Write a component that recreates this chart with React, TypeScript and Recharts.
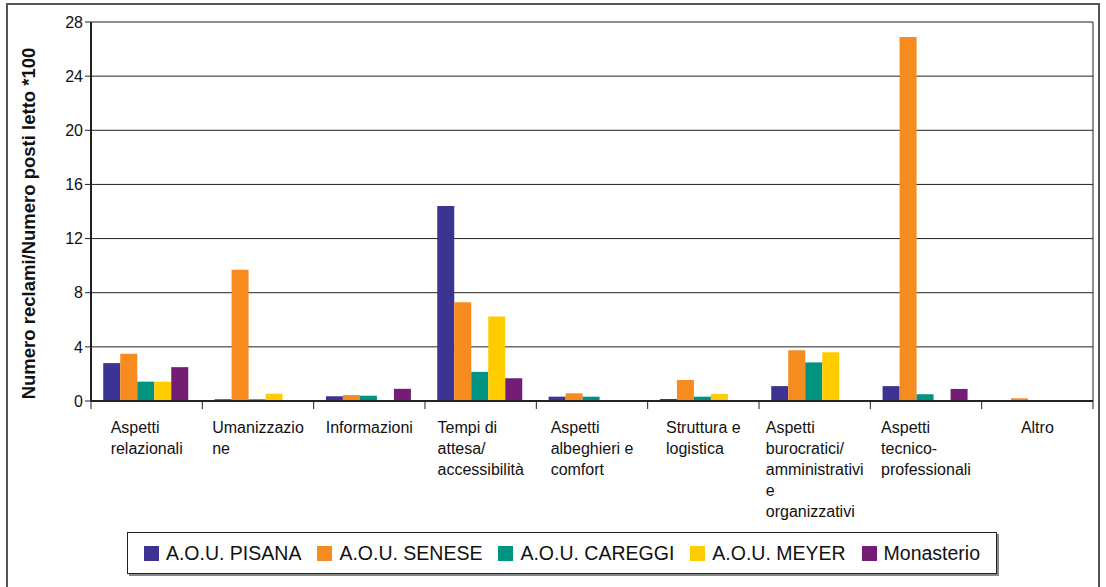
import { BarChart, Bar, XAxis, YAxis, CartesianGrid } from 'recharts';

const categories = [
  'Aspetti relazionali',
  'Umanizzazione',
  'Informazioni',
  'Tempi di attesa/accessibilità',
  'Aspetti albeghieri e comfort',
  'Struttura e logistica',
  'Aspetti burocratici/amministrativi e organizzativi',
  'Aspetti tecnico-professionali',
  'Altro',
];

// wrapped label lines as they appear under the axis
const categoryLines = [
  ['Aspetti', 'relazionali'],
  ['Umanizzazio', 'ne'],
  ['Informazioni'],
  ['Tempi di', 'attesa/', 'accessibilità'],
  ['Aspetti', 'albeghieri e', 'comfort'],
  ['Struttura e', 'logistica'],
  ['Aspetti', 'burocratici/', 'amministrativi', 'e', 'organizzativi'],
  ['Aspetti', 'tecnico-', 'professionali'],
  ['Altro'],
];

const seriesNames = ['A.O.U. PISANA', 'A.O.U. SENESE', 'A.O.U. CAREGGI', 'A.O.U. MEYER', 'Monasterio'];
const seriesColors = ['#3d3393', '#f68b1f', '#009480', '#ffcc00', '#731e74'];

const pisana = [2.8, 0.13, 0.35, 14.4, 0.32, 0.15, 1.1, 1.1, 0];
const senese = [3.5, 9.7, 0.44, 7.3, 0.57, 1.55, 3.75, 26.9, 0.2];
const careggi = [1.43, 0.13, 0.39, 2.15, 0.32, 0.32, 2.85, 0.5, 0];
const meyer = [1.43, 0.54, 0, 6.25, 0, 0.52, 3.6, 0, 0];
const monasterio = [2.5, 0, 0.9, 1.68, 0, 0, 0, 0.89, 0];

const yTicks = [0, 4, 8, 12, 16, 20, 24, 28];

const seriesValues = [pisana, senese, careggi, meyer, monasterio];
const data = categories.map((c, i) => {
  const row: Record<string, string | number> = { name: c, idx: i };
  seriesNames.forEach((s, j) => {
    row[s] = seriesValues[j][i];
  });
  return row;
});

const FONT = 'Arial, "Liberation Sans", sans-serif';

let canvasCtx: CanvasRenderingContext2D | null = null;
function textWidth(t: string, font: string) {
  if (!canvasCtx) canvasCtx = document.createElement('canvas').getContext('2d');
  if (!canvasCtx) return t.length * 7;
  canvasCtx.font = font;
  return canvasCtx.measureText(t).width;
}

const W = 1106;
const H = 587;
const M = { top: 22, right: 13, left: 31, bottom: 0 };
const Y_WIDTH = 60;
const BAND = (W - M.left - Y_WIDTH - M.right) / categories.length;
const CAT_FS = 16;

function CategoryTick(props: any) {
  const { x, y, payload, index } = props;
  const i0 = payload.index ?? index;
  const lines = categoryLines[i0] || [String(payload.value)];
  const font = `${CAT_FS}px ${FONT}`;
  const block = Math.max(...lines.map((l) => textWidth(l, font)));
  const left = x - block / 2;
  const last = i0 === categories.length - 1;
  return (
    <g>
      <line x1={x - BAND / 2} y1={y - 8} x2={x - BAND / 2} y2={y} stroke="#222" strokeWidth={1} />
      {last && <line x1={x + BAND / 2} y1={y - 8} x2={x + BAND / 2} y2={y} stroke="#222" strokeWidth={1} />}
      <text x={left} y={y + 24} fontSize={CAT_FS} fontFamily={FONT} fill="#111" textAnchor="start">
        {lines.map((l, i) => (
          <tspan key={i} x={left} dy={i === 0 ? 0 : 21}>
            {l}
          </tspan>
        ))}
      </text>
    </g>
  );
}

function YLabel(props: any) {
  const { viewBox } = props;
  const cy = viewBox.y + viewBox.height / 2 + 12;
  return (
    <text
      x={28}
      y={cy}
      transform={`rotate(-90, 28, ${cy})`}
      textAnchor="middle"
      dominantBaseline="central"
      fontSize={18.5}
      fontWeight="bold"
      fontFamily={FONT}
      fill="#111"
    >
      Numero reclami/Numero posti letto *100
    </text>
  );
}

export default function App() {
  return (
    <div style={{ position: 'absolute', left: 0, top: 0, width: W, height: H, background: '#fff', fontFamily: FONT }}>
      <div
        style={{
          position: 'absolute',
          left: 6,
          top: 3,
          width: 1094,
          height: 600,
          border: '2px solid #555',
          borderBottom: 'none',
          boxSizing: 'border-box',
        }}
      />
      <div style={{ position: 'absolute', left: 0, top: 0 }}>
        <BarChart width={W} height={H} data={data} margin={M} barGap={0} barCategoryGap="11%">
          <CartesianGrid
            stroke="#222"
            strokeWidth={1}
            vertical
            verticalCoordinatesGenerator={({ offset }: any) => [offset.left + offset.width]}
          />
          <XAxis
            dataKey="name"
            interval={0}
            height={186}
            axisLine={{ stroke: '#222', strokeWidth: 2 }}
            tickLine={false}
            tick={<CategoryTick />}
          />
          <YAxis
            width={Y_WIDTH}
            domain={[0, 28]}
            ticks={yTicks}
            interval={0}
            axisLine={{ stroke: '#222', strokeWidth: 2 }}
            tickLine={{ stroke: '#222' }}
            tickSize={6}
            tick={{ fontSize: 16, fill: '#111', fontFamily: FONT }}
            label={<YLabel />}
          />
          {seriesNames.map((s, j) => (
            <Bar key={s} dataKey={s} fill={seriesColors[j]} isAnimationActive={false} />
          ))}
        </BarChart>
      </div>
      <div
        style={{
          position: 'absolute',
          left: 127,
          top: 532,
          width: 870,
          height: 42,
          border: '1px solid #222',
          boxShadow: '2px 2px 0 #888',
          boxSizing: 'border-box',
          display: 'flex',
          alignItems: 'center',
          justifyContent: 'center',
          gap: 16,
          fontSize: 19.5,
          color: '#111',
        }}
      >
        {seriesNames.map((s, j) => (
          <div key={s} style={{ display: 'flex', alignItems: 'center', gap: 7 }}>
            <span style={{ display: 'inline-block', width: 15, height: 15, background: seriesColors[j] }} />
            <span>{s}</span>
          </div>
        ))}
      </div>
    </div>
  );
}
